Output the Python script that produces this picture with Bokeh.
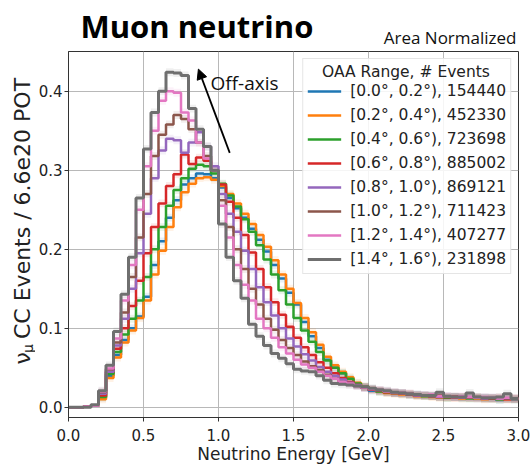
from math import pi
from bokeh.plotting import figure
from bokeh.layouts import column, row
from bokeh.models import Label, Arrow, NormalHead, Legend, LegendItem, FixedTicker, Range1d
from bokeh.core.properties import value
from bokeh.embed import file_html
from bokeh.resources import INLINE

BIN_WIDTH = 0.05
N_BINS = 60
edges = [round(i * BIN_WIDTH, 4) for i in range(N_BINS + 1)]

title_text = "Muon neutrino"
subtitle_text = "Area Normalized"
x_label = "Neutrino Energy [GeV]"
y_label_main, y_label_sub, y_label_rest = "\u03bd", "\u03bc", "CC Events / 6.6e20 POT"
annotation_text = "Off-axis"

legend_title = "OAA Range, # Events"
oaa_labels = [
    "[0.0\u00b0, 0.2\u00b0), 154440",
    "[0.2\u00b0, 0.4\u00b0), 452330",
    "[0.4\u00b0, 0.6\u00b0), 723698",
    "[0.6\u00b0, 0.8\u00b0), 885002",
    "[0.8\u00b0, 1.0\u00b0), 869121",
    "[1.0\u00b0, 1.2\u00b0), 711423",
    "[1.2\u00b0, 1.4\u00b0), 407277",
    "[1.4\u00b0, 1.6\u00b0), 231898",
]

oaa_00_02 = [0, 0, 0.001, 0.002, 0.012, 0.04, 0.066, 0.085, 0.1, 0.115,
             0.14, 0.18, 0.21, 0.24, 0.262, 0.282, 0.29, 0.296, 0.295, 0.29,
             0.278, 0.265, 0.252, 0.24, 0.226, 0.212, 0.197, 0.18, 0.163, 0.145,
             0.13, 0.108, 0.09, 0.075, 0.06, 0.05, 0.043, 0.036, 0.028, 0.025,
             0.021, 0.02, 0.019, 0.018, 0.017, 0.016, 0.016, 0.015, 0.014, 0.013,
             0.012, 0.013, 0.012, 0.012, 0.011, 0.012, 0.011, 0.009, 0.011, 0.010]
oaa_02_04 = [0, 0, 0.001, 0.002, 0.01, 0.037, 0.063, 0.082, 0.097, 0.113,
             0.135, 0.168, 0.198, 0.228, 0.253, 0.272, 0.283, 0.29, 0.291, 0.288,
             0.28, 0.27, 0.258, 0.245, 0.232, 0.218, 0.203, 0.186, 0.168, 0.15,
             0.132, 0.113, 0.095, 0.079, 0.064, 0.053, 0.045, 0.038, 0.031, 0.026,
             0.022, 0.02, 0.018, 0.017, 0.016, 0.016, 0.014, 0.014, 0.013, 0.012,
             0.012, 0.012, 0.011, 0.012, 0.011, 0.010, 0.011, 0.010, 0.010, 0.010]
oaa_04_06 = [0, 0, 0.001, 0.002, 0.013, 0.042, 0.07, 0.092, 0.112, 0.135,
             0.165, 0.2, 0.228, 0.255, 0.275, 0.29, 0.302, 0.307, 0.305, 0.296,
             0.283, 0.268, 0.254, 0.238, 0.222, 0.205, 0.187, 0.168, 0.148, 0.13,
             0.113, 0.097, 0.083, 0.07, 0.059, 0.05, 0.043, 0.036, 0.03, 0.026,
             0.023, 0.02, 0.019, 0.018, 0.017, 0.016, 0.015, 0.014, 0.014, 0.013,
             0.012, 0.013, 0.012, 0.011, 0.012, 0.011, 0.011, 0.010, 0.011, 0.010]
oaa_06_08 = [0, 0, 0.001, 0.002, 0.015, 0.045, 0.074, 0.1, 0.128, 0.16,
             0.195, 0.228, 0.258, 0.28, 0.295, 0.32, 0.308, 0.316, 0.312, 0.3,
             0.282, 0.26, 0.24, 0.218, 0.196, 0.175, 0.152, 0.133, 0.117, 0.102,
             0.088, 0.076, 0.066, 0.057, 0.05, 0.043, 0.037, 0.032, 0.028, 0.025,
             0.022, 0.021, 0.019, 0.018, 0.017, 0.017, 0.015, 0.015, 0.014, 0.013,
             0.013, 0.012, 0.013, 0.012, 0.012, 0.011, 0.011, 0.012, 0.010, 0.011]
oaa_08_10 = [0, 0, 0.001, 0.002, 0.017, 0.045, 0.078, 0.112, 0.15, 0.195,
             0.245, 0.29, 0.325, 0.34, 0.338, 0.322, 0.335, 0.348, 0.33, 0.305,
             0.27, 0.245, 0.222, 0.198, 0.175, 0.152, 0.133, 0.116, 0.1, 0.087,
             0.077, 0.067, 0.059, 0.051, 0.045, 0.04, 0.035, 0.031, 0.028, 0.025,
             0.023, 0.021, 0.02, 0.018, 0.018, 0.016, 0.015, 0.015, 0.014, 0.013,
             0.014, 0.013, 0.012, 0.013, 0.012, 0.011, 0.012, 0.011, 0.011, 0.010]
oaa_10_12 = [0, 0, 0.001, 0.002, 0.019, 0.048, 0.082, 0.12, 0.165, 0.215,
             0.27, 0.318, 0.345, 0.358, 0.37, 0.365, 0.352, 0.335, 0.318, 0.3,
             0.262, 0.228, 0.2, 0.175, 0.15, 0.13, 0.112, 0.098, 0.085, 0.075,
             0.066, 0.058, 0.052, 0.047, 0.041, 0.036, 0.032, 0.03, 0.027, 0.025,
             0.023, 0.021, 0.02, 0.019, 0.018, 0.016, 0.016, 0.015, 0.014, 0.015,
             0.013, 0.014, 0.013, 0.012, 0.013, 0.012, 0.011, 0.012, 0.011, 0.011]
oaa_12_14 = [0, 0, 0.001, 0.002, 0.02, 0.049, 0.087, 0.135, 0.18, 0.25,
             0.305, 0.35, 0.388, 0.40, 0.398, 0.373, 0.363, 0.335, 0.315, 0.30,
             0.255, 0.215, 0.18, 0.155, 0.135, 0.112, 0.1, 0.088, 0.076, 0.068,
             0.06, 0.054, 0.05, 0.045, 0.04, 0.036, 0.032, 0.03, 0.027, 0.025,
             0.023, 0.022, 0.02, 0.019, 0.018, 0.017, 0.016, 0.015, 0.016, 0.014,
             0.014, 0.013, 0.014, 0.013, 0.012, 0.013, 0.012, 0.011, 0.012, 0.011]
oaa_14_16 = [0, 0, 0.0, 0.003, 0.021, 0.053, 0.096, 0.143, 0.19, 0.265,
             0.327, 0.373, 0.40, 0.424, 0.423, 0.42, 0.378, 0.352, 0.33, 0.30,
             0.232, 0.19, 0.16, 0.138, 0.105, 0.09, 0.078, 0.068, 0.062, 0.055,
             0.048, 0.046, 0.045, 0.04, 0.034, 0.03, 0.029, 0.028, 0.027, 0.026,
             0.024, 0.022, 0.021, 0.019, 0.018, 0.017, 0.016, 0.015, 0.015, 0.019,
             0.014, 0.013, 0.013, 0.018, 0.013, 0.012, 0.012, 0.013, 0.017, 0.011]

series = [oaa_00_02, oaa_02_04, oaa_04_06, oaa_06_08,
          oaa_08_10, oaa_10_12, oaa_12_14, oaa_14_16]
colors = ["#1f77b4", "#ff7f0e", "#2ca02c", "#d62728",
          "#9467bd", "#8c564b", "#e377c2", "#6f6f6f"]

x_ticks = [0.0, 0.5, 1.0, 1.5, 2.0, 2.5, 3.0]
x_tick_labels = ["0.0", "0.5", "1.0", "1.5", "2.0", "2.5", "3.0"]
y_ticks = [0.0, 0.1, 0.2, 0.3, 0.4]
y_tick_labels = ["0.0", "0.1", "0.2", "0.3", "0.4"]

BAND = 0.005
TOTAL_W, TOTAL_H = 531, 466
HEAD_H = 51
SIDE_W = 35
MAIN_W, MAIN_H = TOTAL_W - SIDE_W, TOTAL_H - HEAD_H


def bare_figure(w, h):
    f = figure(width=w, height=h, output_backend="svg", toolbar_location=None,
               x_range=Range1d(0, w), y_range=Range1d(0, h),
               x_axis_location=None, y_axis_location=None, min_border=0,
               background_fill_color="white", border_fill_color="white")
    f.title.visible = False
    f.outline_line_color = None
    f.xgrid.visible = False
    f.ygrid.visible = False
    return f


# ---- header strip with the title texts (coordinates in strip pixels, y up) ----
head = bare_figure(TOTAL_W, HEAD_H)
head.text(x=[80], y=[HEAD_H - 25], text=[title_text], text_font=value("Open Sans"),
          text_font_style="bold", text_font_size="31px", text_color="black",
          text_baseline="middle", text_align="left")
head.text(x=[516], y=[HEAD_H - 37], text=[subtitle_text], text_font=value("Open Sans"),
          text_font_size="17px", text_color="#111111",
          text_baseline="middle", text_align="right")

# ---- side strip with the rotated y label ----
side = bare_figure(SIDE_W, MAIN_H)
start_y = MAIN_H - (406 - HEAD_H)
side.text(x=[21.5], y=[start_y], text=[y_label_main], angle=pi / 2,
          text_font=value("DejaVu Sans"), text_font_size="22px", text_color="#222222",
          text_baseline="middle", text_align="left")
side.text(x=[27.5], y=[start_y + 13], text=[y_label_sub], angle=pi / 2,
          text_font=value("DejaVu Sans"), text_font_size="14px", text_color="#222222",
          text_baseline="middle", text_align="left")
side.text(x=[21.5], y=[start_y + 29], text=[y_label_rest], angle=pi / 2,
          text_font=value("DejaVu Sans"), text_font_size="22px", text_color="#222222",
          text_baseline="middle", text_align="left")

# ---- main chart ----
p = figure(width=MAIN_W, height=MAIN_H, output_backend="svg", toolbar_location=None,
           x_range=Range1d(0, 3.0), y_range=Range1d(-0.013, 0.4503),
           min_border_left=30, min_border_right=13, min_border_top=0,
           min_border_bottom=49, background_fill_color="white",
           border_fill_color="white")
p.title.visible = False
p.outline_line_color = "#333333"
p.outline_line_width = 1

for ax, ticks, labels in ((p.xaxis, x_ticks, x_tick_labels), (p.yaxis, y_ticks, y_tick_labels)):
    ax.ticker = FixedTicker(ticks=ticks)
    ax.major_label_overrides = {t: l for t, l in zip(ticks, labels)}
    ax.minor_tick_line_color = None
    ax.major_tick_in = 0
    ax.major_tick_out = 4
    ax.major_tick_line_color = "#333333"
    ax.axis_line_color = "#333333"
    ax.major_label_text_font = "DejaVu Sans"
    ax.major_label_text_font_size = "15px"
    ax.major_label_text_color = "#222222"
p.xaxis.major_label_standoff = 7
p.yaxis.major_label_standoff = 2
p.xaxis.axis_label = x_label
p.xaxis.axis_label_text_font = "DejaVu Sans"
p.xaxis.axis_label_text_font_size = "17px"
p.xaxis.axis_label_text_font_style = "normal"
p.xaxis.axis_label_text_color = "#222222"
p.xaxis.axis_label_standoff = 0

p.xgrid.ticker = FixedTicker(ticks=x_ticks)
p.ygrid.ticker = FixedTicker(ticks=y_ticks)
for g in (p.xgrid, p.ygrid):
    g.grid_line_color = "#b8b8b8"
    g.grid_line_width = 1

for vals, col in zip(series, colors):
    keep = [i for i in range(N_BINS) if vals[i] > 0.003]
    p.quad(left=[edges[i] for i in keep], right=[edges[i + 1] for i in keep],
           bottom=[vals[i] - BAND for i in keep], top=[vals[i] + BAND for i in keep],
           fill_color=col, fill_alpha=0.10, line_color=None)

items = []
for vals, col, lab in zip(series, colors, oaa_labels):
    r = p.step(x=edges, y=list(vals) + [vals[-1]], mode="after",
               line_color=col, line_width=3 if col == "#6f6f6f" else 2.5)
    items.append(LegendItem(label=lab, renderers=[r]))

legend = Legend(items=items, location="top_right", margin=7,
                title="\u00a0\u00a0\u00a0" + legend_title,
                title_text_font="DejaVu Sans", title_text_font_size="15.5px",
                title_text_font_style="normal", title_text_color="#222222",
                title_standoff=0,
                label_text_font="DejaVu Sans", label_text_font_size="15.5px",
                label_text_color="#222222",
                glyph_width=34, glyph_height=20, label_height=20,
                label_standoff=9, spacing=4, padding=4,
                border_line_color="#cccccc", border_line_width=1,
                background_fill_color="white", background_fill_alpha=0.85)
p.add_layout(legend)

p.add_layout(Label(x=0.947, y=0.410, text=annotation_text,
                   text_font="Open Sans", text_font_size="19px", text_color="#111111",
                   text_baseline="middle", text_align="left"))
p.add_layout(Arrow(x_start=1.075, y_start=0.322, x_end=0.866, y_end=0.428,
                   line_color="black", line_width=1.8,
                   end=NormalHead(size=10, fill_color="black", line_color="black")))

layout = column(head, row(side, p, spacing=0), spacing=0)
open("out.html", "w").write(file_html(layout, INLINE))
